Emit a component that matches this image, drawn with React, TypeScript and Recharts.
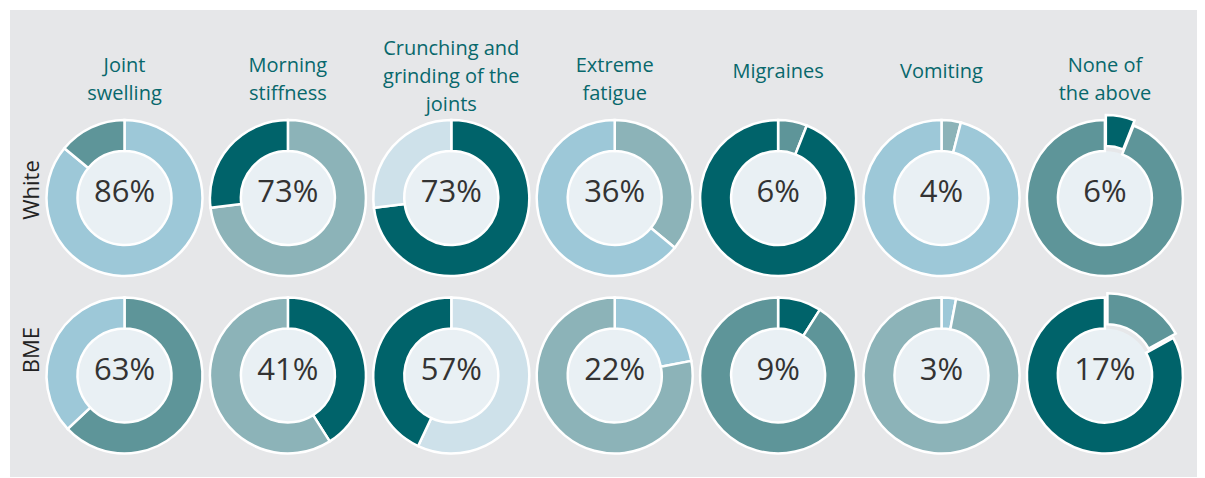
import * as React from 'react';
import { PieChart, Pie, Cell } from 'recharts';

// symptom columns, one title per donut column (split into display lines)
const categories = [
  'Joint swelling',
  'Morning stiffness',
  'Crunching and grinding of the joints',
  'Extreme fatigue',
  'Migraines',
  'Vomiting',
  'None of the above',
];
const titleLines = [
  ['Joint', 'swelling'],
  ['Morning', 'stiffness'],
  ['Crunching and', 'grinding of the', 'joints'],
  ['Extreme', 'fatigue'],
  ['Migraines'],
  ['Vomiting'],
  ['None of', 'the above'],
];

const groups = ['White', 'BME'];
const whiteValues = [86, 73, 73, 36, 6, 4, 6];
const bmeValues = [63, 41, 57, 22, 9, 3, 17];

const DARK = '#00636a';
const MID = '#5e9599';
const GREY = '#8cb3b8';
const LIGHT = '#9dc8d8';
const PALE = '#cee1ea';

const whiteValueColors = [LIGHT, GREY, DARK, GREY, MID, GREY, DARK];
const whiteRestColors = [MID, DARK, PALE, LIGHT, DARK, LIGHT, MID];
const bmeValueColors = [MID, DARK, PALE, LIGHT, DARK, LIGHT, MID];
const bmeRestColors = [LIGHT, GREY, DARK, GREY, MID, GREY, DARK];
const whiteExploded = [false, false, false, false, false, false, true];
const bmeExploded = [false, false, false, false, false, false, true];

const rows = [
  { values: whiteValues, valueColors: whiteValueColors, restColors: whiteRestColors, exploded: whiteExploded },
  { values: bmeValues, valueColors: bmeValueColors, restColors: bmeRestColors, exploded: bmeExploded },
];

const W = 1192;
const H = 467;
const colX = (i: number) => 114.5 + i * 163.4;
const rowY = [188, 365.5];
const labelY = [180, 340];
const OUTER = 78;
const INNER = 47;
const EXPLODE = 5;
const TITLE_COLOR = '#08686c';
const FONT = '"Open Sans", "Noto Sans", sans-serif';

const titleBaselines: Record<number, number[]> = {
  1: [68],
  2: [62, 90],
  3: [45, 73, 101],
};

export default function App() {
  const pies: React.ReactNode[] = [];
  const texts: React.ReactNode[] = [];

  rows.forEach((row, r) => {
    row.values.forEach((v, i) => {
      const cx = colX(i);
      const cy = rowY[r];
      const data = [
        { name: 'value', v },
        { name: 'rest', v: 100 - v },
      ];
      const ex = row.exploded[i];
      const mid = ((90 - (v / 100) * 180) * Math.PI) / 180;
      const dx = ex ? EXPLODE * Math.cos(mid) : 0;
      const dy = ex ? -EXPLODE * Math.sin(mid) : 0;

      pies.push(
        <Pie
          key={`hole-${r}-${i}`}
          data={[{ v: 1 }]}
          dataKey="v"
          cx={cx}
          cy={cy}
          innerRadius={0}
          outerRadius={INNER}
          stroke="none"
          fill="#e9f0f4"
          isAnimationActive={false}
        />
      );
      pies.push(
        <Pie
          key={`ring-${r}-${i}`}
          data={data}
          dataKey="v"
          cx={cx}
          cy={cy}
          innerRadius={INNER}
          outerRadius={OUTER}
          startAngle={90}
          endAngle={-270}
          stroke="#fff"
          strokeWidth={2.5}
          isAnimationActive={false}
        >
          <Cell fill={ex ? 'none' : row.valueColors[i]} stroke={ex ? 'none' : '#fff'} />
          <Cell fill={row.restColors[i]} />
        </Pie>
      );
      if (ex) {
        pies.push(
          <Pie
            key={`ex-${r}-${i}`}
            data={data}
            dataKey="v"
            cx={cx + dx}
            cy={cy + dy}
            innerRadius={INNER}
            outerRadius={OUTER}
            startAngle={90}
            endAngle={-270}
            stroke="#fff"
            strokeWidth={2.5}
            isAnimationActive={false}
          >
            <Cell fill={row.valueColors[i]} />
            <Cell fill="none" stroke="none" />
          </Pie>
        );
      }
      texts.push(
        <text
          key={`pct-${r}-${i}`}
          x={cx}
          y={cy + 4}
          textAnchor="middle"
          fontFamily={FONT}
          fontSize={31}
          fill="#333333"
        >
          {v}%
        </text>
      );
    });
  });

  categories.forEach((c, i) => {
    const lines = titleLines[i];
    const ys = titleBaselines[lines.length];
    texts.push(
      <text key={`title-${i}`} textAnchor="middle" fontFamily={FONT} fontSize={20} fill={TITLE_COLOR}>
        {lines.map((l, k) => (
          <tspan key={k} x={colX(i)} y={ys[k]}>
            {l}
          </tspan>
        ))}
      </text>
    );
  });

  groups.forEach((g, r) => {
    texts.push(
      <text
        key={`group-${r}`}
        x={29}
        y={labelY[r]}
        transform={`rotate(-90 29 ${labelY[r]})`}
        textAnchor="middle"
        fontFamily={FONT}
        fontSize={22}
        fill="#222222"
      >
        {g}
      </text>
    );
  });

  return (
    <div style={{ position: 'relative', marginLeft: 2, marginTop: 2, width: W, height: H, background: '#e6e7e9' }}>
      <PieChart width={W} height={H} margin={{ top: 0, right: 0, bottom: 0, left: 0 }}>
        {pies}
      </PieChart>
      <svg width={W} height={H} style={{ position: 'absolute', left: 0, top: 0, pointerEvents: 'none' }}>
        {texts}
      </svg>
    </div>
  );
}
